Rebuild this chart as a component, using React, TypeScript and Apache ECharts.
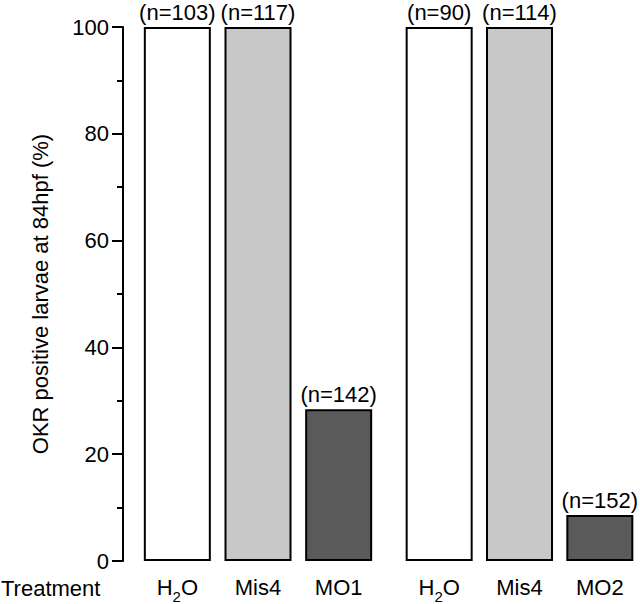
import React, { useEffect, useRef } from "react";
import * as echarts from "echarts";

const groupA = ["H2O", "Mis4", "MO1"];
const valuesA = [100, 100, 28.4];
const countsA = [103, 117, 142];

const groupB = ["H2O", "Mis4", "MO2"];
const valuesB = [100, 100, 8.6];
const countsB = [90, 114, 152];

const yTicks = [0, 20, 40, 60, 80, 100];
const yAxisTitle = "OKR positive larvae at 84hpf (%)";
const xAxisTitle = "Treatment";

const fillByCategory: Record<string, string> = {
  H2O: "#ffffff",
  Mis4: "#c8c8c8",
  MO1: "#5a5a5a",
  MO2: "#5a5a5a",
};

const FONT = "'Liberation Sans', Arial, Helvetica, sans-serif";
const FS = 22;

export default function App() {
  const ref = useRef<HTMLDivElement>(null);
  useEffect(() => {
    if (!ref.current) return;
    const chart = echarts.init(ref.current, null, { renderer: "svg" });
    const catLabel = {
      color: "#000",
      fontSize: FS,
      fontFamily: FONT,
      margin: 13,
      interval: 0,
      formatter: (v: string) => (v === "H2O" ? "{a|H}{s|2}{a|O}" : "{a|" + v + "}"),
      rich: {
        a: { fontSize: FS, fontFamily: FONT, color: "#000", lineHeight: 24, verticalAlign: "bottom" },
        s: { fontSize: 15, fontFamily: FONT, color: "#000", lineHeight: 14, verticalAlign: "bottom", padding: [0, 0, -6, 0] },
      },
    };
    const makeSeries = (cats: string[], vals: number[], counts: number[], idx: number) => ({
      type: "bar",
      xAxisIndex: idx,
      yAxisIndex: idx,
      barWidth: 67,
      data: vals.map((v, i) => ({
        value: v,
        itemStyle: { color: fillByCategory[cats[i]] },
        label: { formatter: "(n=" + counts[i] + ")" },
      })),
      itemStyle: { borderColor: "#000", borderWidth: 2 },
      label: {
        show: true,
        position: "top",
        distance: 4,
        color: "#000",
        fontSize: FS,
        fontFamily: FONT,
      },
    });
    chart.setOption({
      animation: false,
      backgroundColor: "#ffffff",
      grid: [
        { left: 137, width: 242, top: 27, bottom: 39 },
        { left: 399, width: 244, top: 27, bottom: 39 },
      ],
      xAxis: [
        { type: "category", gridIndex: 0, data: groupA, axisLine: { show: false }, axisTick: { show: false }, axisLabel: catLabel },
        { type: "category", gridIndex: 1, data: groupB, axisLine: { show: false }, axisTick: { show: false }, axisLabel: catLabel },
      ],
      yAxis: [
        {
          type: "value",
          gridIndex: 0,
          min: yTicks[0],
          max: yTicks[yTicks.length - 1],
          interval: 20,
          offset: 14,
          name: yAxisTitle,
          nameLocation: "middle",
          nameGap: 72,
          nameTextStyle: { color: "#000000", fontSize: FS, fontFamily: FONT },
          axisLine: { show: true, lineStyle: { color: "#000", width: 2 } },
          axisTick: { show: true, inside: false, length: 11, lineStyle: { color: "#000", width: 2 } },
          minorTick: { show: true, splitNumber: 2, length: 6, lineStyle: { color: "#000", width: 2 } },
          splitLine: { show: false },
          axisLabel: { color: "#000", fontSize: FS, fontFamily: FONT, margin: 14 },
        },
        {
          type: "value",
          gridIndex: 1,
          min: yTicks[0],
          max: yTicks[yTicks.length - 1],
          interval: 20,
          show: false,
          splitLine: { show: false },
        },
      ],
      graphic: [
        {
          type: "text",
          left: 1,
          top: 577,
          style: { text: xAxisTitle, fontSize: FS, fontFamily: FONT, fill: "#000" },
        },
      ],
      series: [makeSeries(groupA, valuesA, countsA, 0), makeSeries(groupB, valuesB, countsB, 1)],
    });
    return () => chart.dispose();
  }, []);
  return (
    <div
      ref={ref}
      style={{ position: "fixed", left: 0, top: 0, width: 640, height: 604, background: "#fff" }}
    />
  );
}
